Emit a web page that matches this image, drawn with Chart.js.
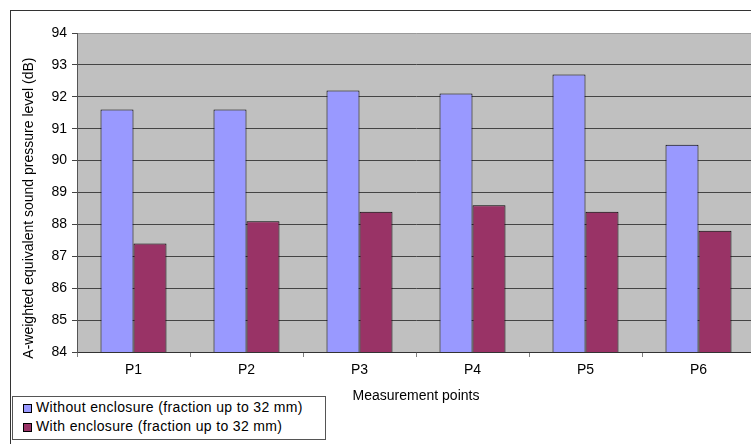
<!DOCTYPE html>
<html>
<head>
<meta charset="utf-8">
<script src="https://cdn.jsdelivr.net/npm/chart.js@4"></script>
<style>
  html, body { margin: 0; padding: 0; background: #fff; overflow: hidden; width: 751px; height: 444px; }
  #frame { position: absolute; left: 10px; top: 10px; width: 800px; height: 500px;
           border-left: 1px solid #333; border-top: 1px solid #333; }
  #c { position: absolute; left: 0; top: 0; }
  #legend { position: absolute; left: 12px; top: 396px; width: 312px; height: 42px;
            border: 1px solid #555; background: #fff;
            font: 14px "Liberation Sans", Arial, sans-serif; letter-spacing: 0.35px; color: #000; }
  #legend .item { position: absolute; left: 10px; height: 17px; line-height: 17px; white-space: nowrap; }
  #legend .box { display: inline-block; width: 7px; height: 7px; border: 1px solid #000;
                 margin-right: 4px; vertical-align: -1px; }
</style>
</head>
<body>
<div id="frame"></div>
<canvas id="c" width="770" height="444"></canvas>
<div id="legend"></div>
<script>
// valores
const points = ["P1", "P2", "P3", "P4", "P5", "P6"];
const withoutEnclosure = [91.6, 91.6, 92.2, 92.1, 92.7, 90.5];
const withEnclosure = [87.4, 88.1, 88.4, 88.6, 88.4, 87.8];
const seriesNames = [
    "Without enclosure (fraction up to 32 mm)",
    "With enclosure (fraction up to 32 mm)"
];
const seriesColors = ["#9999FF", "#993366"];

const plotBackground = {
    id: "plotBackground",
    beforeDraw(chart) {
        const a = chart.chartArea;
        const ctx = chart.ctx;
        ctx.save();
        ctx.fillStyle = "#C0C0C0";
        ctx.fillRect(a.left, a.top, a.right - a.left, a.bottom - a.top);
        ctx.restore();
    }
};

const font = { family: "'Liberation Sans', Arial, sans-serif", size: 14 };

// espacos no fim empurram o titulo um pouco para baixo, como no original
const yTitle = "A-weighted equivalent sound pressure level (dB)" + "\u00a0".repeat(8);

const chart = new Chart(document.getElementById("c"), {
    type: "bar",
    data: {
        labels: points,
        datasets: [
            {
                label: seriesNames[0],
                data: withoutEnclosure,
                backgroundColor: seriesColors[0],
                borderColor: "#000",
                borderWidth: 1,
                borderSkipped: "bottom"
            },
            {
                label: seriesNames[1],
                data: withEnclosure,
                backgroundColor: seriesColors[1],
                borderColor: "#000",
                borderWidth: 1,
                borderSkipped: "bottom"
            }
        ]
    },
    options: {
        responsive: false,
        animation: false,
        devicePixelRatio: 1,
        layout: { padding: { left: 17, right: 15, top: 33, bottom: 37 } },
        categoryPercentage: 0.584,
        barPercentage: 1,
        plugins: {
            legend: { display: false },
            tooltip: { enabled: false }
        },
        scales: {
            x: {
                afterFit(scale) { scale.height = 55; },
                grid: {
                    offset: true,
                    drawOnChartArea: false,
                    drawTicks: true,
                    tickLength: 5,
                    color: "#808080"
                },
                border: { color: "#333", width: 1 },
                ticks: { color: "#000", font: font, padding: 5 },
                title: { display: true, text: "Measurement points", color: "#000", font: font, padding: { top: 4, bottom: 2 } }
            },
            y: {
                min: 84,
                max: 94,
                afterFit(scale) { scale.width = 60; },
                grid: {
                    color: (c) => (c.tick && c.tick.value === 94 ? "#9a9a9a" : "#444"),
                    tickColor: "#444",
                    tickLength: 5
                },
                border: { color: "#555", width: 1 },
                ticks: { stepSize: 1, color: "#000", font: font, padding: 5 },
                title: {
                    display: true,
                    text: yTitle,
                    color: "#000",
                    font: font
                }
            }
        }
    },
    plugins: [plotBackground]
});

// legenda em coluna, igual ao original
const legend = document.getElementById("legend");
seriesNames.forEach((name, i) => {
    const item = document.createElement("div");
    item.className = "item";
    item.style.top = (2 + i * 19) + "px";
    item.innerHTML = '<span class="box" style="background:' + seriesColors[i] + '"></span>';
    item.appendChild(document.createTextNode(name));
    legend.appendChild(item);
});
</script>
</body>
</html>
